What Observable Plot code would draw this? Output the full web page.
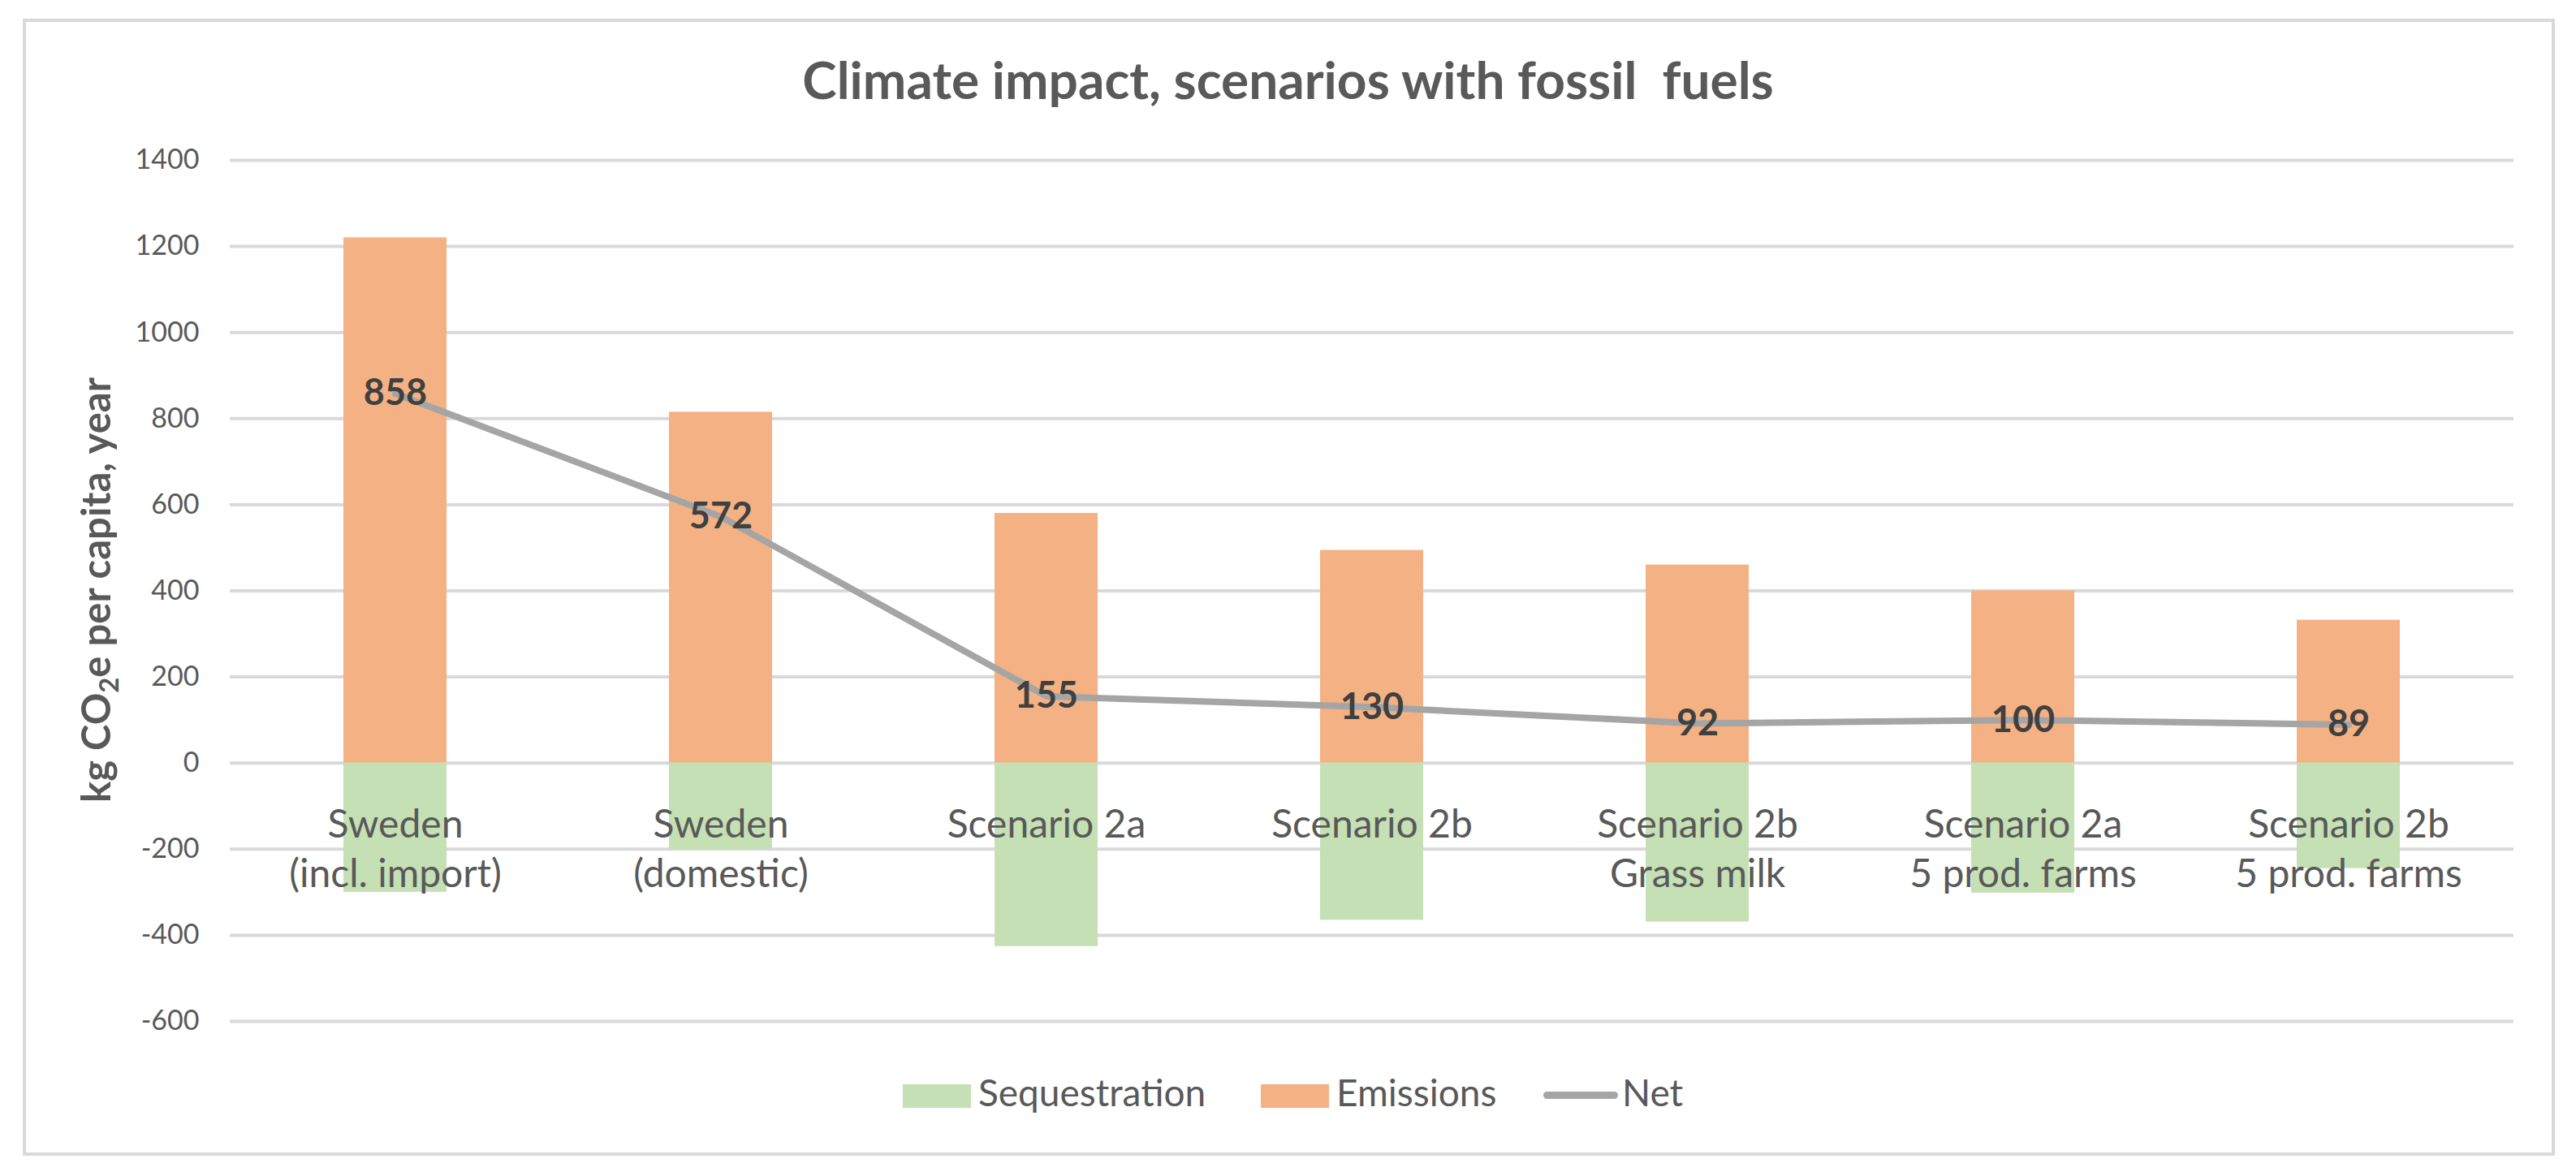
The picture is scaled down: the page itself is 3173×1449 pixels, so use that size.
<!DOCTYPE html>
<html>
<head>
<meta charset="utf-8">
<script src="https://cdn.jsdelivr.net/npm/d3@7"></script>
<script src="https://cdn.jsdelivr.net/npm/@observablehq/plot@0.6"></script>
<style>
  html, body { margin: 0; padding: 0; background: #fff; }
  #wrap { position: relative; width: 3173px; height: 1449px; background: #fff; font-family: Lato, "Open Sans", sans-serif; overflow: hidden; }
  #frame { position: absolute; left: 28px; top: 23px; width: 3111px; height: 1393px; border: 4px solid #D9D9D9; box-sizing: content-box; }
  #title { position: absolute; left: 0; width: 3173px; top: 66px; text-align: center; font-size: 64px; line-height: 64px; font-weight: 700; color: #595959; white-space: pre; }
  #chart { position: absolute; left: 0; top: 150px; }
  .sw { position: absolute; }
  .lt { position: absolute; font-size: 46px; line-height: 46px; color: #595959; white-space: nowrap; }
</style>
</head>
<body>
<div id="wrap">
  <div id="frame"></div>
  <div id="title">Climate impact, scenarios with fossil  fuels</div>
  <div id="chart"></div>
  <div id="legend"></div>
</div>
<script>
const categories = ["Sweden\n(incl. import)", "Sweden\n(domestic)", "Scenario 2a", "Scenario 2b", "Scenario 2b\nGrass milk", "Scenario 2a\n5 prod. farms", "Scenario 2b\n5 prod. farms"];
const emissions = [1220, 815, 580, 494, 460, 400, 332];
const sequestration = [-300, -200, -426, -365, -369, -302, -245];
const net = [858, 572, 155, 130, 92, 100, 89];
const yTicks = [-600, -400, -200, 0, 200, 400, 600, 800, 1000, 1200, 1400];
const seriesNames = ["Sequestration", "Emissions", "Net"];
const seriesColors = ["#C5E0B4", "#F4B183", "#A5A5A5"];

const rows = categories.map((c, i) => ({cat: c, emissions: emissions[i], sequestration: sequestration[i], net: net[i]}));

const chart = Plot.plot({
  width: 3173,
  height: 1140,
  marginTop: 47,
  marginBottom: 32,
  marginLeft: 283,
  marginRight: 77,
  style: {fontFamily: "Lato, 'Open Sans', sans-serif", color: "#595959", background: "transparent", overflow: "visible"},
  x: {type: "band", domain: categories, paddingInner: 0.684, paddingOuter: 0.342, axis: null},
  y: {domain: [-600, 1400], axis: null},
  marks: [
    Plot.ruleY(yTicks, {stroke: "#D9D9D9", strokeWidth: 4}),
    Plot.barY(rows, {x: "cat", y: "emissions", fill: seriesColors[1]}),
    Plot.barY(rows, {x: "cat", y: "sequestration", fill: seriesColors[0]}),
    Plot.axisY({ticks: yTicks, tickSize: 0, tickPadding: 38, fontSize: 34, tickFormat: d => String(d), label: null}),
    Plot.text(rows, {x: "cat", y: () => 0, text: "cat", dy: 48, lineAnchor: "top", lineHeight: 1.28, fontSize: 48, fill: "#595959"}),
    Plot.line(rows, {x: "cat", y: "net", stroke: seriesColors[2], strokeWidth: 8, curve: "linear", strokeLinecap: "round", strokeLinejoin: "round"}),
    Plot.text(rows, {x: "cat", y: "net", text: d => String(d.net), fontSize: 45, fontWeight: 700, fill: "#404040"})
  ]
});
document.getElementById("chart").appendChild(chart);

// y-axis title with subscript
const yl = d3.select(chart).append("text")
  .attr("transform", "translate(136,577) rotate(-90)")
  .attr("text-anchor", "middle")
  .attr("font-size", 49)
  .attr("font-weight", 700)
  .attr("fill", "#595959");
yl.append("tspan").text("kg CO");
yl.append("tspan").attr("dy", 10).attr("font-size", 33).text("2");
yl.append("tspan").attr("dy", -10).text("e per capita, year");

// legend
const legend = document.getElementById("legend");
const items = [
  {name: seriesNames[0], color: seriesColors[0], kind: "rect", sx: 1112, tx: 1205},
  {name: seriesNames[1], color: seriesColors[1], kind: "rect", sx: 1553, tx: 1646},
  {name: seriesNames[2], color: seriesColors[2], kind: "line", sx: 1901, tx: 1998}
];
for (const it of items) {
  const s = document.createElement("div");
  s.className = "sw";
  if (it.kind === "rect") {
    Object.assign(s.style, {left: it.sx + "px", top: "1336px", width: "84px", height: "29px", background: it.color});
  } else {
    Object.assign(s.style, {left: it.sx + "px", top: "1345px", width: "92px", height: "9px", background: it.color, borderRadius: "5px"});
  }
  legend.appendChild(s);
  const t = document.createElement("div");
  t.className = "lt";
  t.textContent = it.name;
  Object.assign(t.style, {left: it.tx + "px", top: "1323px"});
  legend.appendChild(t);
}
</script>
</body>
</html>
